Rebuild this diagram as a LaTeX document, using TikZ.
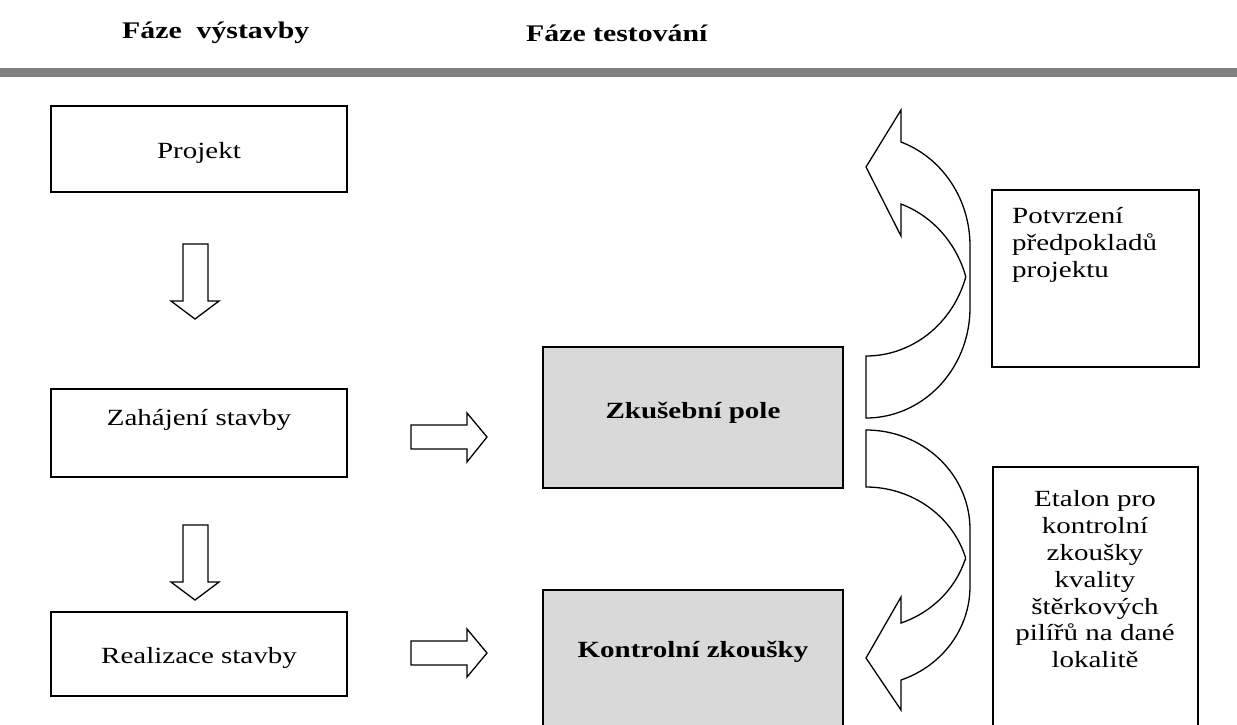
\documentclass[tikz,border=0pt]{standalone}
\usepackage{fontspec}
\usepackage{graphicx}
\setmainfont{Liberation Serif}
\newcommand\sq[1]{\scalebox{1}[0.8]{#1}}
\definecolor{boxgray}{RGB}{217,217,217}
\definecolor{bargray}{RGB}{128,128,128}
\tikzset{
  box/.style={draw=black, line width=1.4pt, rectangle, inner sep=0pt},
  graybox/.style={box, fill=boxgray},
  txt/.style={inner sep=0pt, font=\fontsize{29}{33.5}\selectfont},
  btxt/.style={txt, font=\fontsize{29}{33.5}\selectfont\bfseries},
  htxt/.style={txt, font=\fontsize{29.8}{33.5}\selectfont\bfseries},
  blockarrow/.style={draw=black, line width=1.3pt, fill=white, line join=miter},
}
\begin{document}
\begin{tikzpicture}[x=1pt,y=-1pt]
\useasboundingbox (0,0) rectangle (1237,724);
% headings
\node[htxt, anchor=west] (h1) at (122,33) {\sq{Fáze~ výstavby}};
\node[htxt, anchor=west] (h2) at (526,33) {\sq{Fáze testování}};
\fill[bargray] (0,68) rectangle (1237,77);
% left column boxes
\node[box, minimum width=296pt, minimum height=86pt] (projekt) at (199,149) {};
\node[txt] (projektT) at (199,153) {\sq{Projekt}};
\node[box, minimum width=296pt, minimum height=88pt] (zahaj) at (199,433) {};
\node[txt] (zahajT) at (199,420) {\sq{Zahájení stavby}};
\node[box, minimum width=296pt, minimum height=84pt] (realiz) at (199,654) {};
\node[txt] (realizT) at (199,658) {\sq{Realizace stavby}};
% middle gray boxes
\node[graybox, minimum width=300pt, minimum height=141pt] (zkus) at (693,417.5) {};
\node[btxt] (zkusT) at (693,413) {\sq{Zkušební pole}};
\node[graybox, minimum width=300pt, minimum height=150pt] (kontr) at (693,665) {};
\node[btxt] (kontrT) at (693,652) {\sq{Kontrolní zkoušky}};
% right boxes
\node[box, minimum width=207pt, minimum height=177pt] (potv) at (1095.5,278.5) {};
\node[txt, anchor=north west] (potvT) at (1012,205) {\sq{\begin{tabular}{@{}l@{}}Potvrzení\\předpokladů\\projektu\end{tabular}}};
\node[box, minimum width=205pt, minimum height=270pt] (etal) at (1095.5,602) {};
\node[txt] (etalT) at (1095,582) {\sq{\begin{tabular}{@{}c@{}}Etalon pro\\kontrolní\\zkoušky\\kvality\\štěrkových\\pilířů na dané\\lokalitě\end{tabular}}};
% down block arrows
\draw[blockarrow] (183,244) -- (208,244) -- (208,301) -- (219,301) -- (195,319) -- (171,301) -- (183,301) -- cycle;
\draw[blockarrow] (183,525) -- (208,525) -- (208,582) -- (219,582) -- (195,600) -- (171,582) -- (183,582) -- cycle;
% right block arrows
\draw[blockarrow] (411,425) -- (467,425) -- (467,413) -- (487,437) -- (467,462) -- (467,449) -- (411,449) -- cycle;
\draw[blockarrow] (411,641) -- (467,641) -- (467,629) -- (487,653) -- (467,677) -- (467,665) -- (411,665) -- cycle;
% upper curved arrow (pointing up-left)
\draw[blockarrow]
  (866,167) -- (901,110) -- (901,142)
  -- plot[domain=-70.3:0, samples=40, variable=\t] ({866+104*cos(\t)},{245.8+110.2*sin(\t)})
  -- plot[domain=0:90, samples=40, variable=\t] ({866+104*cos(\t)},{307.8+110.2*sin(\t)})
  -- plot[domain=90:16.66, samples=40, variable=\t] ({866+104*cos(\t)},{245.8+110.2*sin(\t)})
  -- plot[domain=-16.66:-70.3, samples=40, variable=\t] ({866+104*cos(\t)},{307.8+110.2*sin(\t)})
  -- (901,236) -- cycle;
% lower curved arrow (pointing down-left)
\draw[blockarrow]
  (866,658) -- (901,597) -- (901,623)
  -- plot[domain=70.3:16.66, samples=40, variable=\t] ({866+104*cos(\t)},{529.4+99.4*sin(\t)})
  -- plot[domain=-16.66:-90, samples=40, variable=\t] ({866+104*cos(\t)},{586.4+99.4*sin(\t)})
  -- plot[domain=-90:0, samples=40, variable=\t] ({866+104*cos(\t)},{529.4+99.4*sin(\t)})
  -- plot[domain=0:70.3, samples=40, variable=\t] ({866+104*cos(\t)},{586.4+99.4*sin(\t)})
  -- (901,710) -- cycle;
\end{tikzpicture}
\end{document}
